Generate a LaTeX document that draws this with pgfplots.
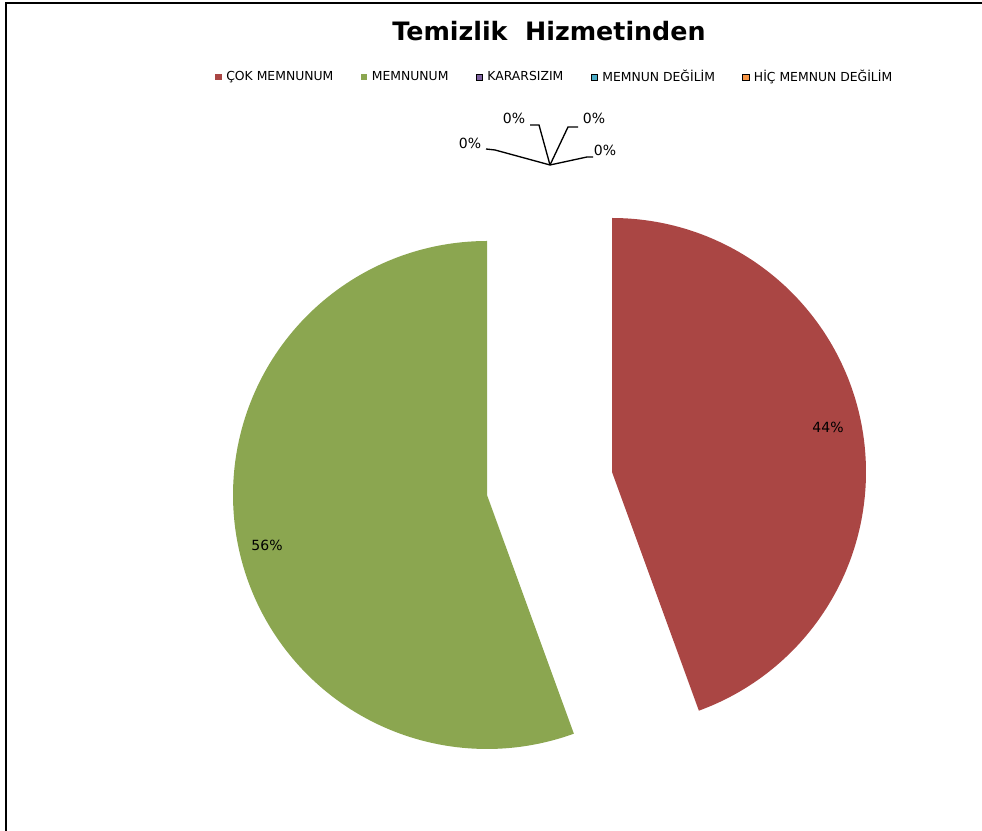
\documentclass[border=0pt]{standalone}
\usepackage{fontspec}
\setmainfont{DejaVu Sans}
\usepackage{pgfplots}
\usepackage{pgfplotstable}
\pgfplotsset{compat=1.18}
\definecolor{pieRed}{HTML}{AA4644}
\definecolor{pieGreen}{HTML}{8BA650}
\definecolor{piePurple}{HTML}{8064A2}
\definecolor{pieTeal}{HTML}{4BACC6}
\definecolor{pieOrange}{HTML}{F79646}
% slice values in chart order
\pgfplotstableread{
idx val
0 4
1 5
2 0
3 0
4 0
}\piedata
\pgfplotstablegetelem{0}{val}\of\piedata \let\vA\pgfplotsretval
\pgfplotstablegetelem{1}{val}\of\piedata \let\vB\pgfplotsretval
\pgfplotstablegetelem{2}{val}\of\piedata \let\vC\pgfplotsretval
\pgfplotstablegetelem{3}{val}\of\piedata \let\vD\pgfplotsretval
\pgfplotstablegetelem{4}{val}\of\piedata \let\vE\pgfplotsretval
\pgfmathsetmacro\total{\vA+\vB+\vC+\vD+\vE}
\pgfmathsetmacro\angA{90-360*\vA/\total}
\pgfmathsetmacro\angB{90+360*\vB/\total}
\begin{document}%
\begin{tikzpicture}
\begin{axis}[
  name=ax,
  scale only axis, width=736.5pt, height=623.25pt,
  xmin=0, xmax=982, ymin=0, ymax=831,
  hide axis, clip=false,
  pieleg/.style={area legend, legend image code/.code={\fill[##1] (0pt,-2.4pt) rectangle (4.8pt,2.4pt);}},
  legend style={at={(axis description cs:0.2189,0.9073)}, anchor=west,
    draw=none, fill=none, legend columns=-1, inner sep=0pt,
    font=\fontsize{9.3}{11}\selectfont,
    nodes={inner sep=1pt},
    /tikz/every odd column/.append style={column sep=2.5pt},
    /tikz/every even column/.append style={column sep=19.5pt}},
  legend cell align=left,
]
% frame lines
\addplot[forget plot, black, line width=1.9pt] coordinates {(6,0) (6,828) (982,828)};
% slices
\addplot[pieleg, draw=none, fill=pieRed, domain=\angA:90, samples=150, variable=\t]
  ({612+254*cos(\t)},{359+254*sin(\t)}) -- (axis cs:612,359) -- cycle;
\addlegendentry{ÇOK MEMNUNUM}
\addplot[pieleg, draw=none, fill=pieGreen, domain=90:\angB, samples=150, variable=\t]
  ({487+254*cos(\t)},{336+254*sin(\t)}) -- (axis cs:487,336) -- cycle;
\addlegendentry{MEMNUNUM}
\addlegendimage{pieleg, fill=piePurple}
\addlegendentry{KARARSIZIM}
\addlegendimage{pieleg, fill=pieTeal}
\addlegendentry{MEMNUN DEĞİLİM}
\addlegendimage{pieleg, fill=pieOrange}
\addlegendentry{HİÇ MEMNUN DEĞİLİM}
% leader lines for zero slices
\addplot[forget plot, black, line width=1pt] coordinates {(486,682) (495,681) (550,666)};
\addplot[forget plot, black, line width=1pt] coordinates {(530,706) (539,706) (550,666)};
\addplot[forget plot, black, line width=1pt] coordinates {(550,666) (568,704) (578,704)};
\addplot[forget plot, black, line width=1pt] coordinates {(550,666) (587,674) (593,674)};
% title
\node[font=\bfseries\fontsize{19}{22}\selectfont] at (axis cs:549,800) {Temizlik\ \ Hizmetinden};
% data labels
\node[font=\fontsize{10.5}{12}\selectfont] at (axis cs:828,404) {44\%};
\node[font=\fontsize{10.5}{12}\selectfont] at (axis cs:267,286) {56\%};
\node[font=\fontsize{10.5}{12}\selectfont] at (axis cs:470,688) {0\%};
\node[font=\fontsize{10.5}{12}\selectfont] at (axis cs:514,713) {0\%};
\node[font=\fontsize{10.5}{12}\selectfont] at (axis cs:594,713) {0\%};
\node[font=\fontsize{10.5}{12}\selectfont] at (axis cs:605,681) {0\%};
\end{axis}
\pgfresetboundingbox
\useasboundingbox (ax.south west) rectangle (ax.north east);
\end{tikzpicture}%
\end{document}
